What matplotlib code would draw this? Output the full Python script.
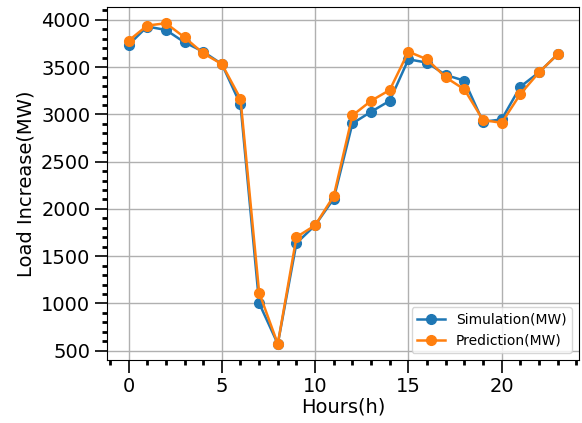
import matplotlib
matplotlib.use("Agg")
import matplotlib.pyplot as plt
from matplotlib.ticker import MultipleLocator

hours = list(range(24))
simulation = [3735, 3930, 3894, 3763, 3664, 3533, 3105, 1002, 571, 1638, 1826, 2109,
              2904, 3028, 3144, 3583, 3548, 3417, 3357, 2922, 2947, 3293, 3445, 3636]
prediction = [3780, 3940, 3965, 3816, 3647, 3533, 3166, 1115, 571, 1702, 1826, 2137,
              2989, 3144, 3258, 3664, 3583, 3392, 3265, 2940, 2911, 3215, 3445, 3636]

fig, ax = plt.subplots(figsize=(5.82, 4.23), dpi=100)
ax.plot(hours, simulation, marker='o', color='#1f77b4', lw=1.8, ms=7, label='Simulation(MW)')
ax.plot(hours, prediction, marker='o', color='#ff7f0e', lw=1.8, ms=7, label='Prediction(MW)')

ax.grid(True, color='#b0b0b0', lw=1.0)
ax.set_axisbelow(True)
ax.xaxis.set_major_locator(MultipleLocator(5))
ax.xaxis.set_minor_locator(MultipleLocator(1))
ax.yaxis.set_major_locator(MultipleLocator(500))
ax.yaxis.set_minor_locator(MultipleLocator(100))
ax.tick_params(which='major', length=9, width=1.2, labelsize=14, pad=3)
ax.tick_params(which='minor', length=3.5, width=2)
ax.set_xlabel('Hours(h)', fontsize=14, labelpad=1)
ax.set_ylabel('Load Increase(MW)', fontsize=14, labelpad=4)
ax.legend(loc='lower right', fontsize=10)
fig.subplots_adjust(left=0.184, right=0.995, top=0.983, bottom=0.149)
fig.savefig('out.png', dpi=100)
